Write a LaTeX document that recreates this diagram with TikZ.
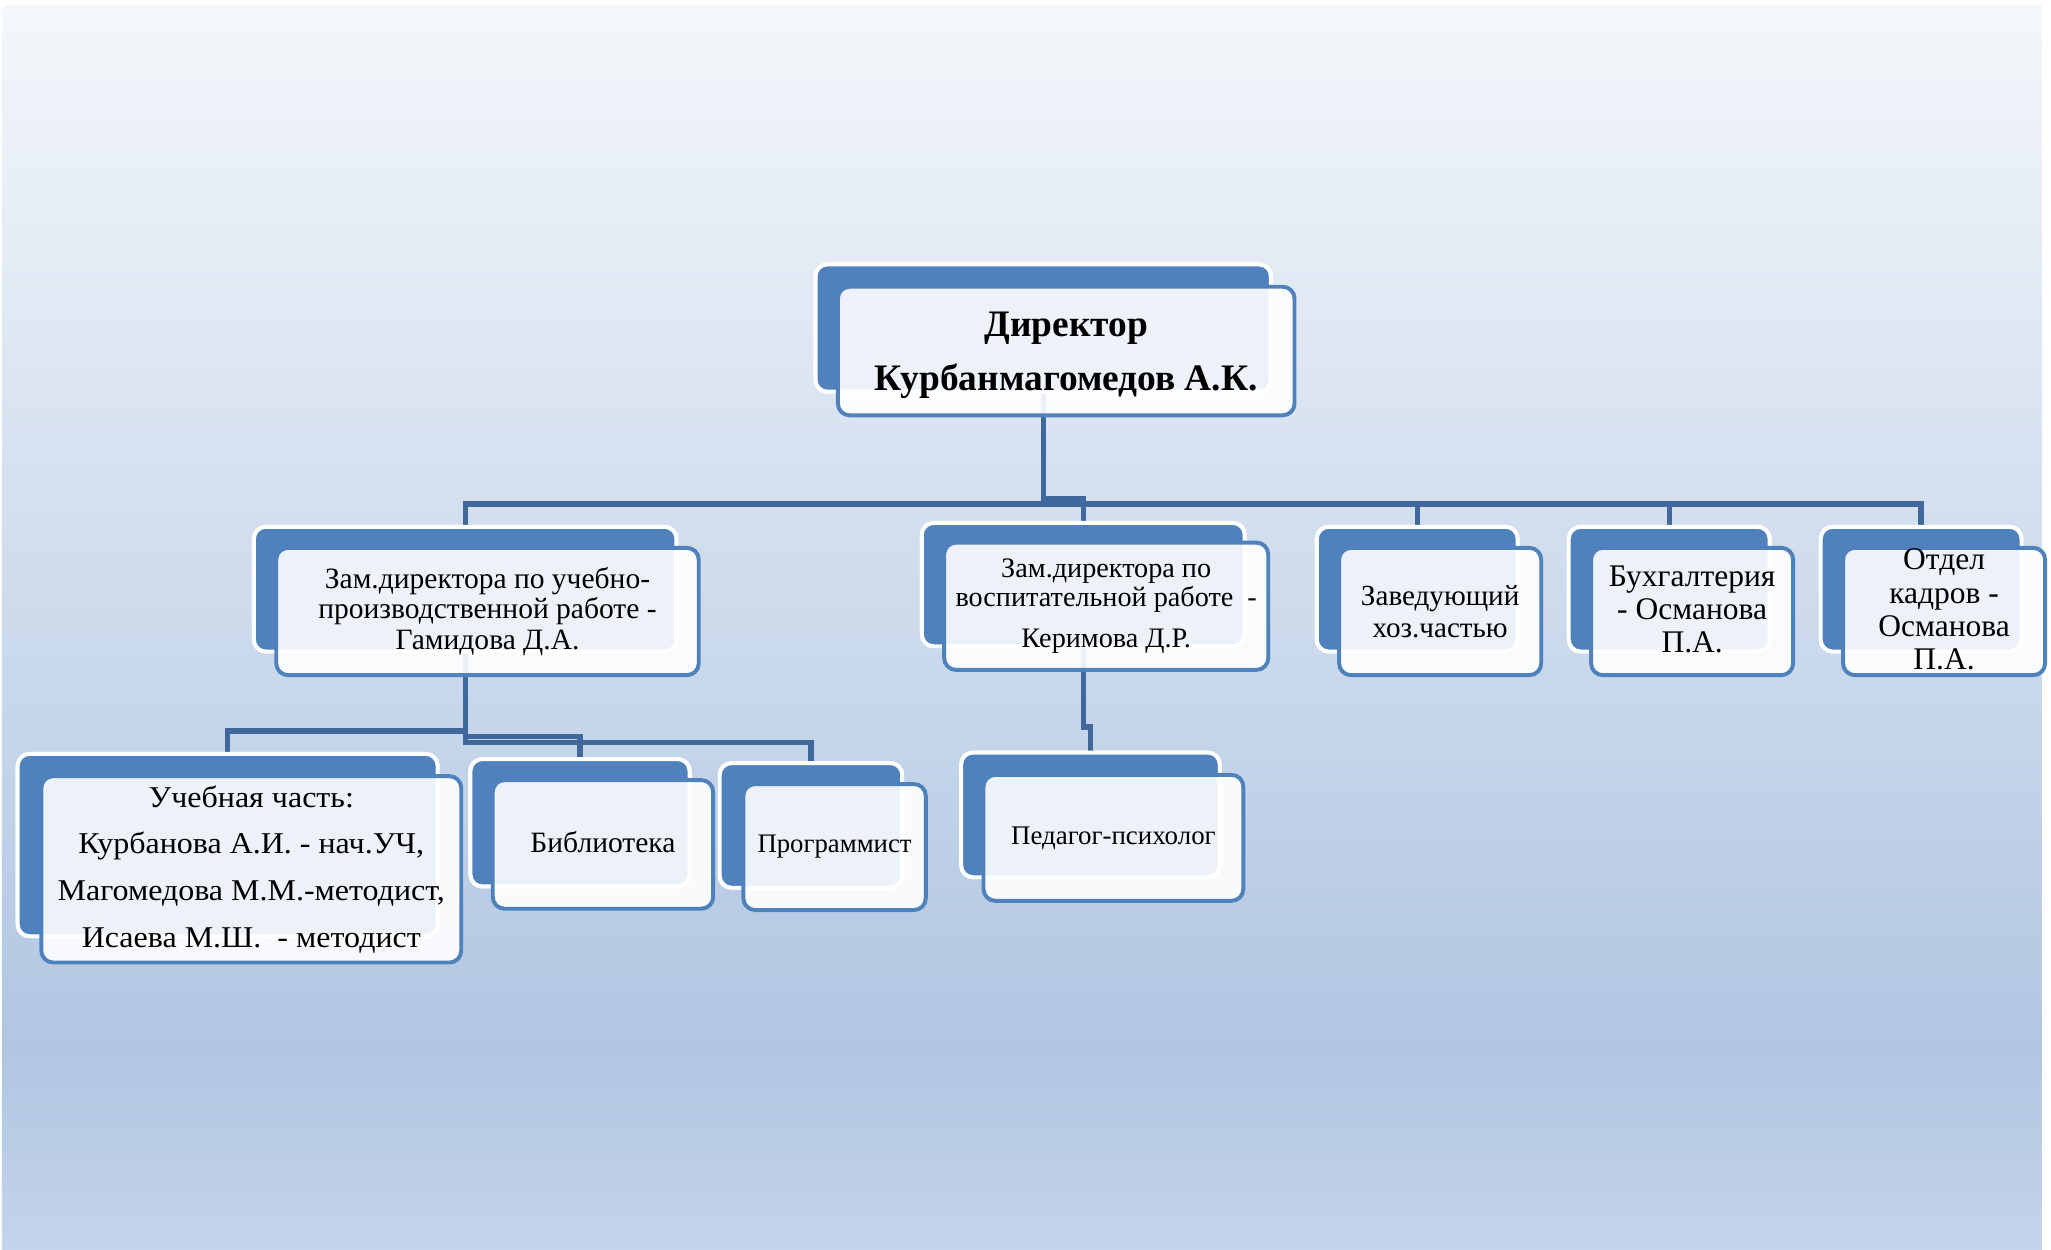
\documentclass[tikz,border=0pt]{standalone}
\usepackage{fontspec}
\setmainfont{Liberation Serif}
\usetikzlibrary{calc}
\definecolor{boxblue}{HTML}{4F81BD}
\definecolor{lineblue}{HTML}{41689C}
\definecolor{bgtop}{HTML}{F4F7FB}
\definecolor{bgmid}{HTML}{B1C6E2}
\definecolor{bgbot}{HTML}{C4D4EA}
\newcommand\boxfont[3]{\fontspec{Liberation Serif}[FakeStretch=#3]\fontsize{#1pt}{#2pt}\selectfont}
\newcommand\boxfontb[3]{\fontspec{Liberation Serif}[FakeStretch=#3]\bfseries\fontsize{#1pt}{#2pt}\selectfont}
\begin{document}
\begin{tikzpicture}[x=1pt,y=-1pt,
  backbox/.style={fill=boxblue, draw=white, line width=3pt, rounded corners=9pt, inner sep=0pt},
  frontbox/.style={fill=white, fill opacity=0.9, text opacity=1, draw=boxblue, line width=3pt,
    rounded corners=9pt, inner sep=0pt, align=center, text=black},
  boxtext/.style={inner sep=0pt, align=center, text=black},
  conn/.style={draw=lineblue, line width=4pt}]
% background
\useasboundingbox (0,0) rectangle (1563,952);
\fill[white] (0,0) rectangle (1563,952);
\shade[top color=bgtop, bottom color=bgmid] (1.5,4.5) rectangle (1556,800);
\shade[top color=bgmid, bottom color=bgbot] (1.5,799.5) rectangle (1556,952);

% back boxes (named, used as connector ends)
\node[backbox, minimum width=347pt, minimum height=97pt] (dirB) at (795,250) {};
\node[backbox, minimum width=322pt, minimum height=95pt] (z1B) at (354.5,449) {};
\node[backbox, minimum width=246pt, minimum height=94pt] (z2B) at (825.5,445.5) {};
\node[backbox, minimum width=153pt, minimum height=95pt] (hozB) at (1080,449) {};
\node[backbox, minimum width=153pt, minimum height=95pt] (buhB) at (1272,449) {};
\node[backbox, minimum width=153pt, minimum height=95pt] (kadB) at (1464,449) {};
\node[backbox, minimum width=320pt, minimum height=139pt] (uchB) at (173.5,644) {};
\node[backbox, minimum width=167pt, minimum height=97pt] (bibB) at (442,627) {};
\node[backbox, minimum width=139pt, minimum height=95pt] (prgB) at (618,629) {};
\node[backbox, minimum width=197pt, minimum height=95pt] (psyB) at (831,621) {};

% connectors
\coordinate (bus) at (795,384);
\draw[conn] (dirB.south) -- (bus) -| (z1B.north);
\draw[conn] (bus) -- (795,380) -| (z2B.north);
\draw[conn] (bus) -| (hozB.north);
\draw[conn] (bus) -| (buhB.north);
\draw[conn] (bus) -| (kadB.north);
\draw[conn] (z1B.south) -- (354.5,557) -| (uchB.north);
\draw[conn] (z1B.south) -- (354.5,561) -| (bibB.north);
\draw[conn] (z1B.south) -- (354.5,566) -| (prgB.north);
\draw[conn] (z2B.south) -- (825.5,554) -| (psyB.north);

% back boxes again, over the connector stubs
\node[backbox, minimum width=347pt, minimum height=97pt] at (795,250) {};
\node[backbox, minimum width=322pt, minimum height=95pt] at (354.5,449) {};
\node[backbox, minimum width=246pt, minimum height=94pt] at (825.5,445.5) {};
\node[backbox, minimum width=153pt, minimum height=95pt] at (1080,449) {};
\node[backbox, minimum width=153pt, minimum height=95pt] at (1272,449) {};
\node[backbox, minimum width=153pt, minimum height=95pt] at (1464,449) {};
\node[backbox, minimum width=320pt, minimum height=139pt] at (173.5,644) {};
\node[backbox, minimum width=167pt, minimum height=97pt] at (442,627) {};
\node[backbox, minimum width=139pt, minimum height=95pt] at (618,629) {};
\node[backbox, minimum width=197pt, minimum height=95pt] at (831,621) {};

% front boxes with text
\node[frontbox, minimum width=348pt, minimum height=98pt] (dir) at (812.5,267.5) {};
\node[boxtext, font=\boxfontb{28.5}{41}{1}] (dirT) at ($(dir.center)+(0,3)$)
  {Директор\\Курбанмагомедов А.К.};
\node[frontbox, minimum width=322pt, minimum height=97pt, font=\boxfont{22.5}{23}{1}] (z1) at (371.5,466)
  {Зам.директора по учебно-\\производственной работе -\\Гамидова Д.А.};
\node[frontbox, minimum width=247pt, minimum height=97pt, font=\boxfont{21.5}{22}{1}] (z2) at (843,462)
  {Зам.директора по\\воспитательной работе\ \ -\\[9pt]Керимова Д.Р.};
\node[frontbox, minimum width=154pt, minimum height=97pt, font=\boxfont{22.2}{24}{1}] (hoz) at (1097.5,466)
  {Заведующий\\хоз.частью};
\node[frontbox, minimum width=154pt, minimum height=97pt] (buh) at (1289.5,466) {};
\node[boxtext, font=\boxfont{24}{25}{1}] (buhT) at ($(buh.center)+(0,-1.5)$)
  {Бухгалтерия\\- Османова\\П.А.};
\node[frontbox, minimum width=154pt, minimum height=97pt] (kad) at (1481.5,466) {};
\node[boxtext, font=\boxfont{24}{25.3}{1}] (kadT) at ($(kad.center)+(0,-1.5)$)
  {Отдел\\кадров -\\Османова\\П.А.};
\node[frontbox, minimum width=320pt, minimum height=142pt, font=\boxfont{23}{35.5}{1.06}] (uch) at (191.5,662.5)
  {Учебная часть:\\Курбанова А.И. - нач.УЧ,\\Магомедова М.М.-методист,\\Исаева М.Ш.\ \ - методист};
\node[frontbox, minimum width=168pt, minimum height=98pt] (bib) at (459.5,643.5) {};
\node[boxtext, font=\boxfont{22.5}{24}{1}] (bibT) at ($(bib.center)+(0,-1.5)$) {Библиотека};
\node[frontbox, minimum width=139pt, minimum height=96pt, font=\boxfont{20.4}{24}{1}] (prg) at (636,645.5)
  {Программист};
\node[frontbox, minimum width=198pt, minimum height=96pt, font=\boxfont{20.5}{24}{1}] (psy) at (848.5,638.5)
  {Педагог-психолог};
\end{tikzpicture}
\end{document}
